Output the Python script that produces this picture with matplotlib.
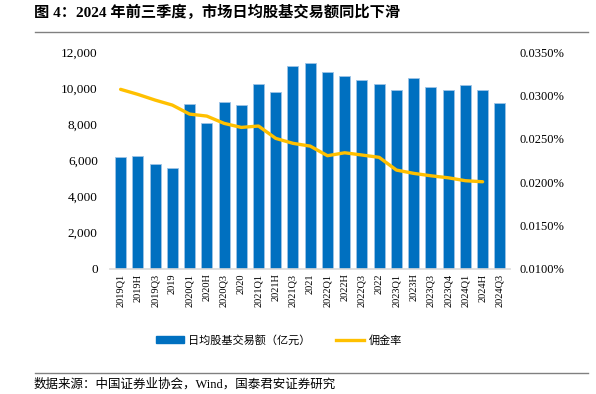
import matplotlib.pyplot as plt
from matplotlib.ticker import FuncFormatter, MultipleLocator
from matplotlib.lines import Line2D

plt.rcParams['font.family'] = ['Liberation Serif', 'Noto Sans CJK SC']

# Data
periods = ['2019Q1', '2019H', '2019Q3', '2019', '2020Q1', '2020H', '2020Q3', '2020',
           '2021Q1', '2021H', '2021Q3', '2021', '2022Q1', '2022H', '2022Q3', '2022',
           '2023Q1', '2023H', '2023Q3', '2023Q4', '2024Q1', '2024H', '2024Q3']
turnover = [6210, 6250, 5820, 5600, 9150, 8100, 9230, 9080,
            10230, 9820, 11240, 11390, 10930, 10670, 10470, 10260,
            9910, 10580, 10080, 9910, 10200, 9910, 9190]
# commission rate in %, last period not reported
commission = [0.03073, 0.03015, 0.02949, 0.02891, 0.02787, 0.02764, 0.02680, 0.02633,
              0.02649, 0.02506, 0.02449, 0.02417, 0.02306, 0.02340, 0.02314, 0.02287,
              0.02140, 0.02102, 0.02074, 0.02051, 0.02017, 0.02005]

blue = '#0070C0'
gold = '#FFC000'

fig = plt.figure(figsize=(5.96, 3.94), dpi=100)
ax = fig.add_axes([0.185, 0.318, 0.671, 0.549])
ax2 = ax.twinx()

x = list(range(len(periods)))
ax.bar(x, turnover, width=0.64, color=blue, edgecolor='#9DC3E6', linewidth=0.6, zorder=2)
ax2.plot(x[:len(commission)], commission, color=gold, linewidth=2.4, solid_capstyle='round')

ax.set_xlim(-0.6, len(periods) - 0.4)
ax.set_ylim(0, 12000)
ax.yaxis.set_major_locator(MultipleLocator(2000))
ax.yaxis.set_major_formatter(FuncFormatter(lambda v, p: f'{v:,.0f}'))
ax2.set_ylim(0.01, 0.035)
ax2.yaxis.set_major_locator(MultipleLocator(0.005))
ax2.yaxis.set_major_formatter(FuncFormatter(lambda v, p: f'{v:.4f}%'))

ax.set_xticks(x)
ax.set_xticklabels(periods, rotation=90, fontsize=7.5)
ax.tick_params(axis='both', length=0)
ax.tick_params(axis='y', labelsize=9.5, pad=9)
ax2.tick_params(axis='y', length=0, labelsize=9, pad=7)

for a in (ax, ax2):
    for s in ['top', 'right', 'left', 'bottom']:
        a.spines[s].set_visible(False)
ax.spines['bottom'].set_visible(True)
ax.spines['bottom'].set_color('#D9D9D9')
ax.spines['bottom'].set_linewidth(1.2)

# Legend
handles = [plt.Rectangle((0, 0), 1, 1, color=blue),
           Line2D([0], [0], color=gold, linewidth=2.4)]
fig.legend(handles, ['日均股基交易额（亿元）', '佣金率'], loc='center',
           bbox_to_anchor=(0.468, 0.137), ncol=2, frameon=False, fontsize=8,
           handlelength=2.5, handleheight=0.5, columnspacing=2.3, handletextpad=0.4)

# Title, rules and source
fig.text(0.057, 0.968, '图 4：2024 年前三季度，市场日均股基交易额同比下滑',
         fontsize=11, fontweight='bold', va='center')
fig.add_artist(Line2D([0.059, 0.987], [0.919, 0.919], color='#808080', linewidth=1.0))
fig.add_artist(Line2D([0.059, 0.987], [0.053, 0.053], color='#808080', linewidth=1.0))
fig.text(0.057, 0.025, '数据来源：中国证券业协会，Wind，国泰君安证券研究',
         fontsize=9, va='center')

plt.savefig('out.png', dpi=100)
